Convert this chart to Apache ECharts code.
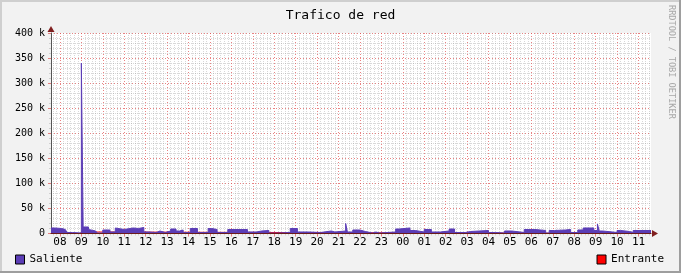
<!DOCTYPE html>
<html><head><meta charset="utf-8">
<script src="https://cdn.jsdelivr.net/npm/echarts@6/dist/echarts.min.js"></script>
<style>html,body{margin:0;padding:0;background:#F2F2F2}#c{width:681px;height:273px}</style>
</head><body><div id="c"></div>
<script>
const chartTitle = 'Trafico de red';
const watermark = 'RRDTOOL / TOBI OETIKER';
const seriesNames = ['Saliente', 'Entrante'];
const hourLabels = ['08','09','10','11','12','13','14','15','16','17','18','19','20','21','22','23','00','01','02','03','04','05','06','07','08','09','10','11'];
const yTickLabels = ['0','50 k','100 k','150 k','200 k','250 k','300 k','350 k','400 k'];
// time in minutes since 00:00 of the first day
const timeStart = 455, timeEnd = 2135;
const salienteStart = [455,465,485,495,500,515,540,545,560,565,580,585,600,620,635,640,660,685,700,715,730,750,760,775,790,805,815,825,845,865,895,905,920,950,1005,1030,1045,1065,1090,1125,1145,1175,1210,1220,1240,1250,1280,1285,1300,1320,1335,1355,1365,1375,1420,1430,1460,1475,1500,1520,1545,1570,1585,1615,1630,1680,1700,1725,1745,1780,1810,1840,1850,1865,1895,1910,1930,1945,1975,1985,1990,2000,2040,2050,2075,2085];
const salienteK = [11,10,8,5,2,1,340,13,8,5,4,1,7,3,11,8,11,10,12,3,2,5,2,5,9,5,7,2,10,2,10,8,2,8,3,5,6,1,2,10,3,2,3,5,3,5,20,3,7,4,1,3,1,3,9,11,6,3,8,3,5,9,2,4,6,2,1,5,2,8,6,1,6,7,8,2,7,11,6,19,5,2,6,4,2,6];
const entranteStart = [455,535,545];
const entranteK = [0,3,0];

const colSal = '#5B3DB6', colEnt = '#FF0000';
const gridCol = 'rgba(143,143,143,0.35)', mgridCol = 'rgba(222,79,79,0.7)';
const mono = 'DejaVu Sans Mono';

function stepData(starts, vals) {
  const d = starts.map((t, i) => [t, vals[i] * 1000]);
  d.push([timeEnd, vals[vals.length - 1] * 1000]);
  return d;
}
const hourTicks = hourLabels.map((_, i) => 480 + 60 * i);
const minorTicks = [];
for (let m = 460; m < timeEnd; m += 10) if (m % 60 !== 0) minorTicks.push(m);

const chart = echarts.init(document.getElementById('c'), null, {renderer: 'canvas'});
chart.setOption({
  backgroundColor: '#F2F2F2',
  animation: false,
  title: {text: chartTitle, left: 'center', top: 4,
    textStyle: {fontFamily: mono, fontSize: 13, fontWeight: 'normal', color: '#000'}},
  legend: [
    {data: [seriesNames[0]], left: 15, top: 254, padding: 0, itemWidth: 9, itemHeight: 9, icon: 'rect',
     itemStyle: {borderColor: '#000', borderWidth: 1},
     textStyle: {fontFamily: mono, fontSize: 11, color: '#000'}},
    {data: [seriesNames[1]], right: 17, top: 254, padding: 0, itemWidth: 9, itemHeight: 9, icon: 'rect',
     itemStyle: {borderColor: '#000', borderWidth: 1},
     textStyle: {fontFamily: mono, fontSize: 11, color: '#000'}}
  ],
  grid: {left: 51, top: 33, width: 600, height: 200.5, show: true, backgroundColor: '#FFFFFF', borderWidth: 0},
  xAxis: [
    {type: 'value', min: timeStart, max: timeEnd, position: 'bottom',
     axisLine: {show: false}, axisLabel: {show: false},
     axisTick: {show: true, length: 2, customValues: minorTicks, lineStyle: {color: gridCol}},
     splitLine: {show: true, lineStyle: {color: gridCol, type: [1, 1], width: 1}}},
    {type: 'value', min: timeStart, max: timeEnd, position: 'bottom',
     axisLine: {show: false},
     axisTick: {show: true, length: 3, customValues: hourTicks, lineStyle: {color: mgridCol}},
     axisLabel: {show: true, customValues: hourTicks, margin: 3,
       formatter: v => hourLabels[Math.round((v - 480) / 60)],
       fontFamily: mono, fontSize: 11, color: '#000'},
     splitLine: {show: true, lineStyle: {color: mgridCol, type: [1, 2], width: 1}}},
    {type: 'value', min: timeStart, max: timeEnd, position: 'bottom', z: 10,
     axisLine: {show: true, lineStyle: {color: '#6B1B1B', width: 1}},
     axisTick: {show: false}, axisLabel: {show: false}, splitLine: {show: false}}
  ],
  yAxis: {type: 'value', min: 0, max: 400000, interval: 50000,
    axisLine: {show: true, lineStyle: {color: '#555', width: 1}},
    axisTick: {show: true, length: 3, lineStyle: {color: mgridCol}},
    minorTick: {show: true, splitNumber: 5, length: 2, lineStyle: {color: gridCol}},
    axisLabel: {margin: 6, fontFamily: mono, fontSize: 10, color: '#000',
      formatter: v => yTickLabels[Math.round(v / 50000)]},
    splitLine: {show: true, lineStyle: {color: mgridCol, type: [1, 2], width: 1}},
    minorSplitLine: {show: true, lineStyle: {color: gridCol, type: [1, 1], width: 1}}},
  series: [
    {name: seriesNames[0], type: 'line', xAxisIndex: 1, step: 'end', symbol: 'none', color: colSal,
     lineStyle: {width: 1, color: colSal}, areaStyle: {color: colSal, opacity: 1},
     data: stepData(salienteStart, salienteK), z: 3},
    {name: seriesNames[1], type: 'line', xAxisIndex: 1, step: 'end', symbol: 'none', color: colEnt,
     lineStyle: {width: 1, color: colEnt},
     data: stepData(entranteStart, entranteK), z: 1}
  ],
  graphic: [
    {type: 'rect', shape: {x: 0, y: 0, width: 681, height: 2}, style: {fill: '#CFCFCF'}, silent: true},
    {type: 'rect', shape: {x: 0, y: 0, width: 2, height: 273}, style: {fill: '#CFCFCF'}, silent: true},
    {type: 'rect', shape: {x: 0, y: 271, width: 681, height: 2}, style: {fill: '#9E9E9E'}, silent: true},
    {type: 'rect', shape: {x: 679, y: 0, width: 2, height: 273}, style: {fill: '#9E9E9E'}, silent: true},
    {type: 'polygon', shape: {points: [[51, 26], [47.5, 32], [54.5, 32]]}, style: {fill: '#801F1F'}, silent: true, z: 10},
    {type: 'polygon', shape: {points: [[658, 233.5], [652, 230], [652, 237]]}, style: {fill: '#801F1F'}, silent: true, z: 10},
    {type: 'text', x: 671, y: 5, rotation: -Math.PI / 2,
     style: {text: watermark, fill: '#A8A8A8', font: '8.6px ' + mono, textAlign: 'left', textVerticalAlign: 'middle'}, silent: true}
  ]
});
</script></body></html>
